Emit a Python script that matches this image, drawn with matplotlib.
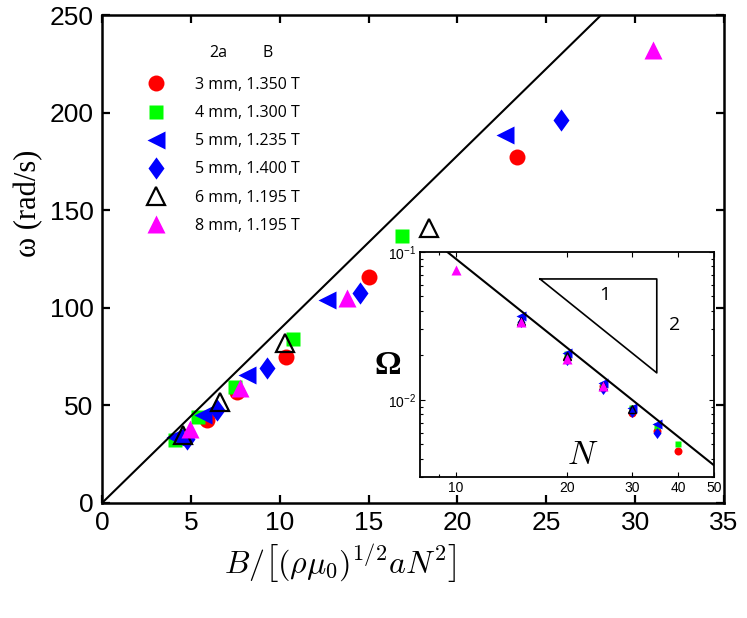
import matplotlib
matplotlib.use("Agg")
import matplotlib.pyplot as plt
from matplotlib.path import Path
from matplotlib.ticker import FixedLocator, FixedFormatter, LogLocator, NullFormatter
import numpy as np

# ---------------- data ----------------
labels = ["3 mm, 1.350 T", "4 mm, 1.300 T", "5 mm, 1.235 T",
          "5 mm, 1.400 T", "6 mm, 1.195 T", "8 mm, 1.195 T"]

# main panel: x = B/[(rho mu0)^(1/2) a N^2], y = omega (rad/s)
x_red = [23.35, 15.0, 10.35, 7.6, 5.9]
y_red = [177, 116, 75, 57, 42.5]
x_green = [16.9, 10.75, 7.5, 5.4, 4.1]
y_green = [137, 84, 59.5, 44, 32.5]
x_btri = [22.7, 12.65, 8.15, 5.7, 4.1]
y_btri = [188.5, 104, 65.5, 45, 34]
x_bdia = [25.8, 14.5, 9.3, 6.45, 4.8]
y_bdia = [196, 107.5, 69, 47.5, 33]
x_black = [18.4, 10.3, 6.65, 4.55]
y_black = [141, 82, 51.7, 35]
x_mag = [31.0, 13.8, 7.75, 4.95]
y_mag = [232, 105, 59, 38]

fit_slope = 8.9  # omega = slope * x

# inset: N vs Omega
N_red = [20, 25, 30, 35, 40]
O_red = [0.0190, 0.0124, 0.0081, 0.0061, 0.0045]
N_green = [20, 25, 30, 35, 40]
O_green = [0.0203, 0.0125, 0.0088, 0.0066, 0.0050]
N_btri = [15, 20, 25, 30, 35]
O_btri = [0.0369, 0.0206, 0.0129, 0.0088, 0.0068]
N_bdia = [15, 20, 25, 30, 35]
O_bdia = [0.0338, 0.0185, 0.0119, 0.0082, 0.0060]
N_black = [15, 20, 25, 30]
O_black = [0.0341, 0.0199, 0.0124, 0.0086]
N_mag = [10, 15, 20, 25]
O_mag = [0.0752, 0.0338, 0.0190, 0.0123]

inset_C = 9.0  # Omega = C / N^2
tri_N = [16.9, 35.0, 35.0]
tri_O = [0.0657, 0.0657, 0.0152]

# ---------------- styles ----------------
dia = Path([(0, 1), (0.72, 0), (0, -1), (-0.72, 0), (0, 1)],
           [Path.MOVETO, Path.LINETO, Path.LINETO, Path.LINETO, Path.CLOSEPOLY])
styles = [
    dict(marker="o", color="#ff0000", ms=11.5, mfc="#ff0000", mec="none"),
    dict(marker="s", color="#00ff00", ms=9.5, mfc="#00ff00", mec="none"),
    dict(marker="<", color="#0000ff", ms=13.5, mfc="#0000ff", mec="none"),
    dict(marker=dia, color="#0000ff", ms=16, mfc="#0000ff", mec="none"),
    dict(marker="^", color="black", ms=12.5, mfc="none", mec="black", mew=1.6),
    dict(marker="^", color="#ff00ff", ms=13.5, mfc="#ff00ff", mec="none"),
]
main_data = [(x_red, y_red), (x_green, y_green), (x_btri, y_btri),
             (x_bdia, y_bdia), (x_black, y_black), (x_mag, y_mag)]
inset_data = [(N_red, O_red), (N_green, O_green), (N_btri, O_btri),
              (N_bdia, O_bdia), (N_black, O_black), (N_mag, O_mag)]

plt.rcParams["font.family"] = ["Liberation Sans", "DejaVu Sans"]

fig = plt.figure(figsize=(7.47, 6.18), dpi=100)
ax = fig.add_axes([102/747, 1-503/618, 622/747, 488/618])

handles = []
for (xs, ys), st, lab in zip(main_data, styles, labels):
    h, = ax.plot(xs, ys, linestyle="none", label=lab, **st)
    handles.append(h)

xl = np.array([0, 35])
ax.plot(xl, fit_slope*xl, color="black", lw=1.5)

ax.set_xlim(0, 35)
ax.set_ylim(0, 250)
ax.set_xticks(np.arange(0, 36, 5))
ax.set_yticks(np.arange(0, 251, 50))
ax.tick_params(direction="in", length=6, width=1.6, labelsize=19, pad=6,
               top=True, right=True)
for s in ax.spines.values():
    s.set_linewidth(1.8)

ax.set_xlabel(r"$B/\left[(\rho\mu_0)^{1/2}aN^2\right]$", fontsize=23,
              math_fontfamily="cm")
ax.xaxis.set_label_coords(0.383, -0.082)
ax.set_ylabel("ω (rad/s)", fontsize=22, family=["Liberation Serif", "DejaVu Serif"])
ax.yaxis.set_label_coords(-0.094, 0.615)

leg = ax.legend(handles=handles, loc="upper left", bbox_to_anchor=(0.0675, 0.873),
                frameon=False, labelspacing=0.76, handlelength=1.5,
                handletextpad=1.69, borderpad=0, borderaxespad=0,
                prop={"family": "Open Sans", "size": 11.5})
ax.text(0.187, 0.922, "2a", transform=ax.transAxes, fontsize=11.5,
        family="Open Sans", ha="center", va="center")
ax.text(0.267, 0.922, "B", transform=ax.transAxes, fontsize=11.5,
        family="Open Sans", ha="center", va="center")

# ---------------- inset ----------------
ins = fig.add_axes([420/747, 1-477/618, 294/747, 225/618])
for (ns, os_), st in zip(inset_data, styles):
    st2 = dict(st)
    st2["ms"] = st["ms"] * 0.5
    if st2.get("mew"):
        st2["mew"] = 1.0
    ins.plot(ns, os_, linestyle="none", **st2)

nl = np.array([8, 50])
ins.plot(nl, inset_C / nl**2, color="black", lw=1.5)
ins.plot(tri_N + [tri_N[0]], tri_O + [tri_O[0]], color="black", lw=1.2)

ins.set_xscale("log")
ins.set_yscale("log")
ins.set_xlim(8, 50)
ins.set_ylim(3.0e-3, 1e-1)
ins.xaxis.set_major_locator(FixedLocator([10, 20, 30, 40, 50]))
ins.xaxis.set_major_formatter(FixedFormatter(["10", "20", "30", "40", "50"]))
ins.xaxis.set_minor_locator(FixedLocator([9]))
ins.xaxis.set_minor_formatter(NullFormatter())
ins.yaxis.set_major_locator(LogLocator(base=10, numticks=10))
ins.yaxis.set_minor_locator(LogLocator(base=10, subs=np.arange(2, 10), numticks=10))
ins.yaxis.set_minor_formatter(NullFormatter())
ins.tick_params(which="both", direction="in", top=True, right=True,
                labelsize=10, width=0.8, pad=3)
ins.tick_params(which="major", length=3.5)
ins.tick_params(which="minor", length=2)
for s in ins.spines.values():
    s.set_linewidth(1.3)

ins.text(0.63, 0.81, "1", transform=ins.transAxes, fontsize=14,
         family="Open Sans", ha="center", va="center")
ins.text(0.867, 0.676, "2", transform=ins.transAxes, fontsize=14,
         family="Open Sans", ha="center", va="center")
ins.text(0.555, 0.095, r"$N$", transform=ins.transAxes, fontsize=24,
         math_fontfamily="cm", ha="center", va="center")
fig.text(388/747, 1-365/618, "Ω", fontsize=24, fontweight="bold",
         family=["Liberation Serif", "DejaVu Serif"], ha="center", va="center")

fig.savefig("out.png", dpi=100)
